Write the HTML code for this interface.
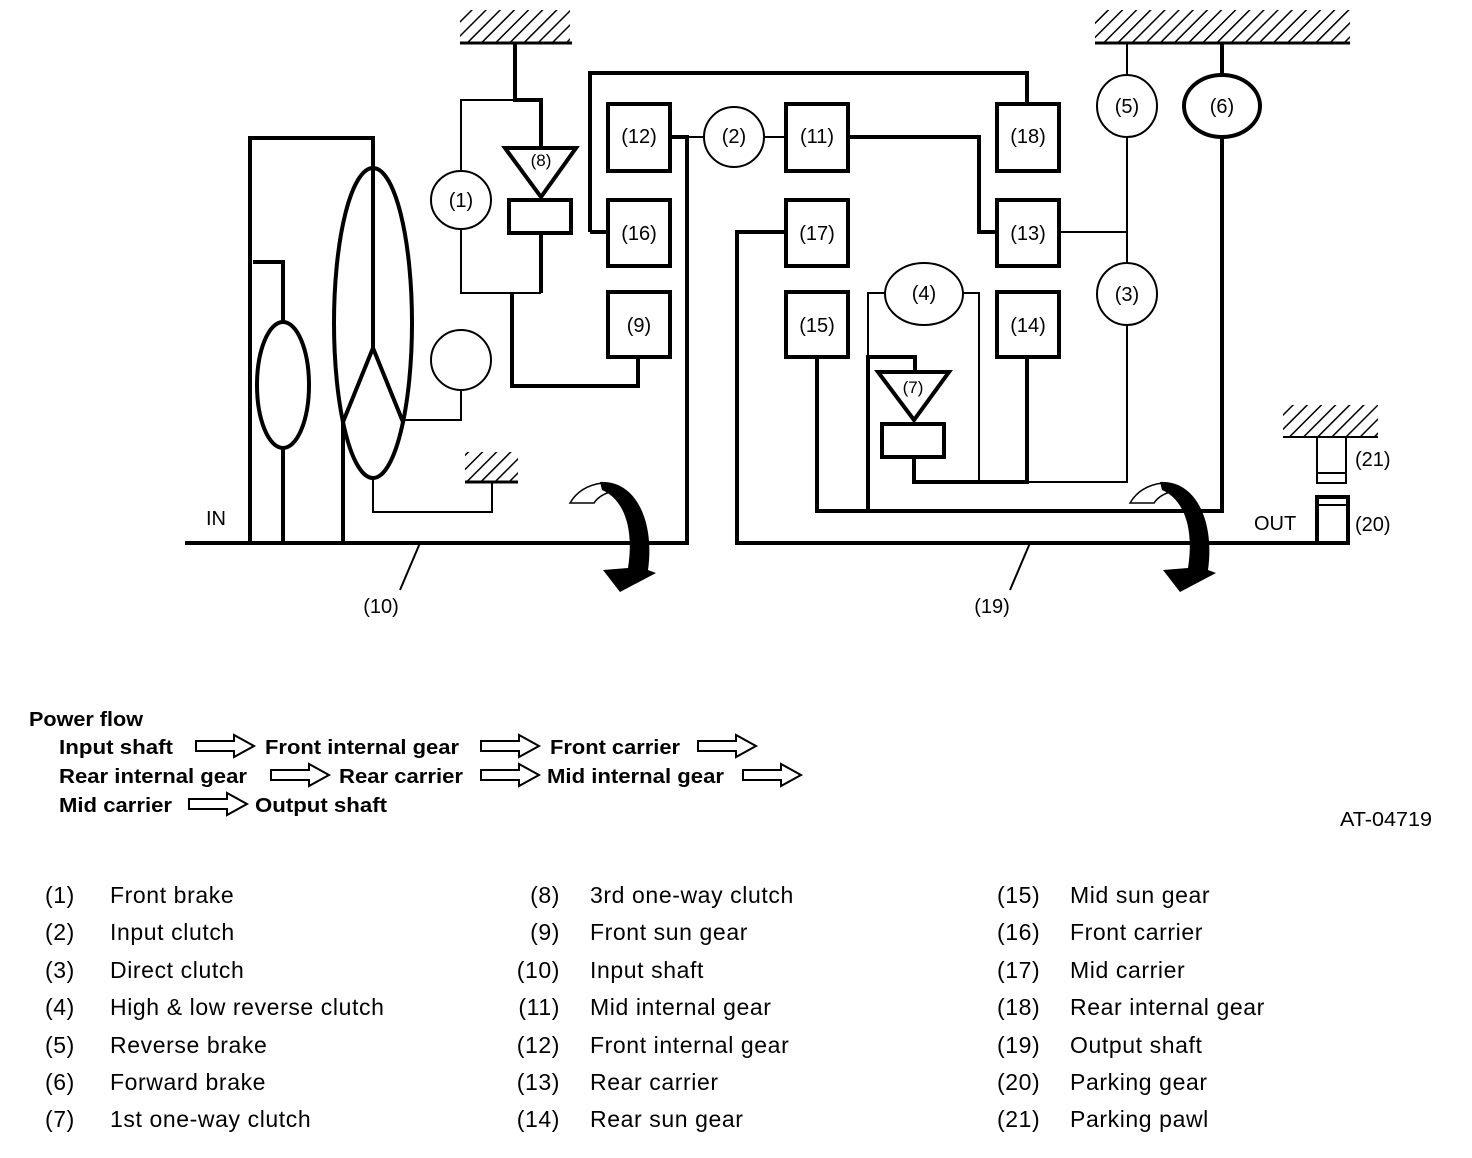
<!DOCTYPE html>
<html><head><meta charset="utf-8"><style>
html,body{margin:0;padding:0;background:#fff;}
svg{display:block;}
text{font-family:"Liberation Sans",Arial,sans-serif;fill:#000;}
</style></head><body>
<svg width="1472" height="1158" viewBox="0 0 1472 1158" xmlns="http://www.w3.org/2000/svg">
<defs>
<pattern id="h" width="10" height="10" patternUnits="userSpaceOnUse" patternTransform="rotate(45)">
<line x1="0" y1="0" x2="0" y2="10" stroke="#000" stroke-width="3"/>
</pattern>
</defs>
<g fill="none" stroke="#000" stroke-linejoin="miter">
<rect x="460" y="10" width="110" height="32" fill="url(#h)" stroke="none"/>
<line x1="460" y1="43" x2="572" y2="43" stroke-width="3"/>
<rect x="465" y="452" width="53" height="30" fill="url(#h)" stroke="none"/>
<line x1="465" y1="482" x2="518" y2="482" stroke-width="3"/>
<rect x="1095" y="10" width="255" height="32" fill="url(#h)" stroke="none"/>
<line x1="1095" y1="43" x2="1350" y2="43" stroke-width="3"/>
<rect x="1283" y="405" width="95" height="32" fill="url(#h)" stroke="none"/>
<line x1="1283" y1="437" x2="1378" y2="437" stroke-width="2"/>

<g stroke-width="4">
<polyline points="185,543 687,543 687,137 672,137"/>
<polyline points="250,543 250,138 373,138 373,348"/>
<polyline points="253,262 283,262 283,322"/>
<line x1="283" y1="448" x2="283" y2="543"/>
<ellipse cx="283" cy="385" rx="26" ry="63"/>
<ellipse cx="373" cy="323" rx="39" ry="155"/>
<polyline points="343,543 343,422 373,348 403,422"/>
<polyline points="515,43 515,100 541,100 541,148"/>
<line x1="541" y1="233" x2="541" y2="293"/>
<polyline points="512,293 512,386 638,386 638,357"/>
<polyline points="590,232 590,73 1027,73 1027,104"/>
<line x1="590" y1="232" x2="608" y2="232"/>
<rect x="608" y="104" width="62" height="67"/>
<rect x="608" y="200" width="62" height="66"/>
<rect x="608" y="292" width="62" height="65"/>
<polygon points="505,148 576,148 541,197"/>
<rect x="509" y="200" width="62" height="33"/>
</g>
<g stroke-width="2">
<polyline points="461,170 461,100 515,100"/>
<polyline points="461,229 461,293 541,293"/>
<ellipse cx="461" cy="200" rx="30" ry="29" fill="#fff"/>
<ellipse cx="461" cy="360" rx="30" ry="30"/>
<polyline points="461,390 461,420 403,420"/>
<polyline points="373,478 373,512 492,512 492,482"/>
<line x1="672" y1="137" x2="704" y2="137"/>
<line x1="764" y1="137" x2="786" y2="137"/>
<ellipse cx="734" cy="137" rx="30" ry="30"/>
<line x1="420" y1="543" x2="400" y2="590"/>
<line x1="1030" y1="543" x2="1010" y2="590"/>
</g>

<g stroke-width="4">
<rect x="786" y="104" width="62" height="67"/>
<rect x="997" y="104" width="62" height="67"/>
<rect x="786" y="200" width="62" height="66"/>
<rect x="997" y="200" width="62" height="66"/>
<rect x="786" y="292" width="62" height="65"/>
<rect x="997" y="292" width="62" height="65"/>
<polyline points="848,137 979,137 979,232 997,232"/>
<polyline points="786,232 737,232 737,543 1348,543 1348,497 1317,497 1317,543"/>
<polyline points="817,357 817,511 1222,511 1222,137"/>
<line x1="1222" y1="43" x2="1222" y2="75"/>
<ellipse cx="1222" cy="106" rx="38" ry="31"/>
<polyline points="868,511 868,357 915,357 915,372"/>
<polyline points="914,457 914,482 1027,482 1027,357"/>
<polygon points="878,372 949,372 914,420"/>
<rect x="882" y="424" width="62" height="33"/>
</g>
<g stroke-width="2">
<line x1="1127" y1="43" x2="1127" y2="75"/>
<line x1="1127" y1="137" x2="1127" y2="263"/>
<line x1="1059" y1="232" x2="1127" y2="232"/>
<polyline points="1127,325 1127,482 1027,482"/>
<ellipse cx="1127" cy="106" rx="30" ry="31"/>
<ellipse cx="1127" cy="294" rx="30" ry="31"/>
<polyline points="885,293 868,293 868,357"/>
<polyline points="963,293 979,293 979,482"/>
<ellipse cx="924" cy="294" rx="39" ry="31"/>
<line x1="1317" y1="505" x2="1348" y2="505"/>
<rect x="1317" y="437" width="29" height="46"/>
<line x1="1317" y1="473" x2="1346" y2="473"/>
</g>
</g>

<g>
<path d="M570,503 Q580,486 602,483 L614,491 Q600,494 594,503 Z" fill="#fff" stroke="#000" stroke-width="1.5"/>
<path d="M600,482 C635,480 655,520 648,570 L656,573 L620,592 L603,570 L628,568 C634,530 625,500 602,490 Z" fill="#000"/>
<path d="M1130,503 Q1140,486 1162,483 L1174,491 Q1160,494 1154,503 Z" fill="#fff" stroke="#000" stroke-width="1.5"/>
<path d="M1160,482 C1195,480 1215,520 1208,570 L1216,573 L1180,592 L1163,570 L1188,568 C1194,530 1185,500 1162,490 Z" fill="#000"/>
</g>

<g font-size="20" text-anchor="middle">
<text x="461" y="207">(1)</text>
<text x="541" y="166" font-size="17">(8)</text>
<text x="639" y="143">(12)</text>
<text x="639" y="240">(16)</text>
<text x="639" y="332">(9)</text>
<text x="734" y="143">(2)</text>
<text x="817" y="143">(11)</text>
<text x="1028" y="143">(18)</text>
<text x="817" y="240">(17)</text>
<text x="1028" y="240">(13)</text>
<text x="817" y="332">(15)</text>
<text x="1028" y="332">(14)</text>
<text x="924" y="300">(4)</text>
<text x="913" y="393" font-size="17">(7)</text>
<text x="1127" y="113">(5)</text>
<text x="1222" y="113">(6)</text>
<text x="1127" y="301">(3)</text>
<text x="381" y="613">(10)</text>
<text x="992" y="613">(19)</text>
</g>
<g font-size="20">
<text x="206" y="525">IN</text>
<text x="1254" y="530">OUT</text>
<text x="1355" y="466">(21)</text>
<text x="1355" y="531">(20)</text>
<text x="1340" y="826" textLength="92" lengthAdjust="spacingAndGlyphs">AT-04719</text>
</g>

<g font-size="20" font-weight="bold">
<text x="29" y="726" textLength="114" lengthAdjust="spacingAndGlyphs">Power flow</text>
<text x="59" y="754" textLength="114" lengthAdjust="spacingAndGlyphs">Input shaft</text>
<text x="265" y="754" textLength="194" lengthAdjust="spacingAndGlyphs">Front internal gear</text>
<text x="550" y="754" textLength="130" lengthAdjust="spacingAndGlyphs">Front carrier</text>
<text x="59" y="783" textLength="188" lengthAdjust="spacingAndGlyphs">Rear internal gear</text>
<text x="339" y="783" textLength="124" lengthAdjust="spacingAndGlyphs">Rear carrier</text>
<text x="547" y="783" textLength="177" lengthAdjust="spacingAndGlyphs">Mid internal gear</text>
<text x="59" y="812" textLength="113" lengthAdjust="spacingAndGlyphs">Mid carrier</text>
<text x="255" y="812" textLength="132" lengthAdjust="spacingAndGlyphs">Output shaft</text>
</g>
<g fill="none" stroke="#000" stroke-width="2">
<path d="M196,741 h38 v-6 l20,11 l-20,11 v-6 h-38 Z"/>
<path d="M481,741 h38 v-6 l20,11 l-20,11 v-6 h-38 Z"/>
<path d="M698,741 h38 v-6 l20,11 l-20,11 v-6 h-38 Z"/>
<path d="M271,770 h38 v-6 l20,11 l-20,11 v-6 h-38 Z"/>
<path d="M481,770 h38 v-6 l20,11 l-20,11 v-6 h-38 Z"/>
<path d="M743,770 h38 v-6 l20,11 l-20,11 v-6 h-38 Z"/>
<path d="M189,799 h38 v-6 l20,11 l-20,11 v-6 h-38 Z"/>
</g>

<g font-size="23" letter-spacing="0.6">
<text x="45" y="903">(1)</text><text x="110" y="903">Front brake</text>
<text x="45" y="940">(2)</text><text x="110" y="940">Input clutch</text>
<text x="45" y="978">(3)</text><text x="110" y="978">Direct clutch</text>
<text x="45" y="1015">(4)</text><text x="110" y="1015">High &amp; low reverse clutch</text>
<text x="45" y="1053">(5)</text><text x="110" y="1053">Reverse brake</text>
<text x="45" y="1090">(6)</text><text x="110" y="1090">Forward brake</text>
<text x="45" y="1127">(7)</text><text x="110" y="1127">1st one-way clutch</text>

<text x="560" y="903" text-anchor="end">(8)</text><text x="590" y="903">3rd one-way clutch</text>
<text x="560" y="940" text-anchor="end">(9)</text><text x="590" y="940">Front sun gear</text>
<text x="560" y="978" text-anchor="end">(10)</text><text x="590" y="978">Input shaft</text>
<text x="560" y="1015" text-anchor="end">(11)</text><text x="590" y="1015">Mid internal gear</text>
<text x="560" y="1053" text-anchor="end">(12)</text><text x="590" y="1053">Front internal gear</text>
<text x="560" y="1090" text-anchor="end">(13)</text><text x="590" y="1090">Rear carrier</text>
<text x="560" y="1127" text-anchor="end">(14)</text><text x="590" y="1127">Rear sun gear</text>

<text x="997" y="903">(15)</text><text x="1070" y="903">Mid sun gear</text>
<text x="997" y="940">(16)</text><text x="1070" y="940">Front carrier</text>
<text x="997" y="978">(17)</text><text x="1070" y="978">Mid carrier</text>
<text x="997" y="1015">(18)</text><text x="1070" y="1015">Rear internal gear</text>
<text x="997" y="1053">(19)</text><text x="1070" y="1053">Output shaft</text>
<text x="997" y="1090">(20)</text><text x="1070" y="1090">Parking gear</text>
<text x="997" y="1127">(21)</text><text x="1070" y="1127">Parking pawl</text>
</g>
</svg>
</body></html>
